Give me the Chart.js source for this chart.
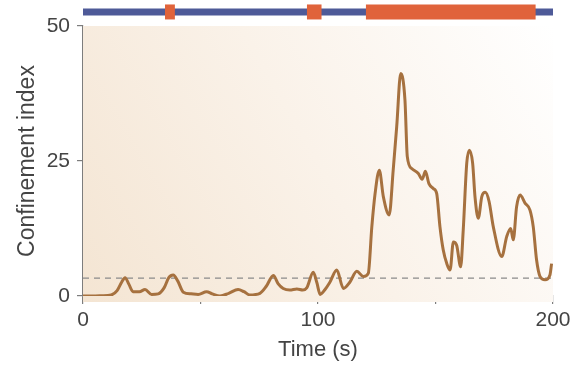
<!DOCTYPE html>
<html>
<head>
<meta charset="utf-8">
<script src="https://cdn.jsdelivr.net/npm/chart.js@4"></script>
<style>
  html, body { margin: 0; padding: 0; background: #ffffff; }
  #wrap { width: 575px; height: 368px; }
</style>
</head>
<body>
<div id="wrap"><canvas id="c" width="575" height="368"></canvas></div>
<script>
// Confinement index trace over time
const times = [0, 4, 8, 12, 14.5, 16.5, 17.9, 19.5, 21.3, 24, 26.4, 29.2, 32, 34.5, 36.5, 38.4, 40.3, 42.7,
  46, 49, 52.6, 55, 58.3, 62, 66, 68.5, 71, 75.3, 78, 81, 83, 85.2, 88, 91, 93.5, 95.2, 98, 99.5, 100.9,
  103, 105, 108, 110.8, 113.6, 116.5, 119.3, 121.4, 122.9, 124.3, 126.1, 127.8, 130.3, 132, 133.5, 135.2,
  137, 138, 139.9, 142.7, 144.3, 145.7, 147.2, 149.1, 150.5, 151.9, 153.3, 154.8, 156.2, 157.6, 159,
  160.7, 161.8, 163.3, 164.4, 165.8, 166.8, 168.2, 169.7, 171.2, 172.8, 174.6, 178.2, 180.3, 182, 183.1,
  184.5, 186, 188.1, 190.2, 191.6, 193, 194.5, 196.6, 198.7, 199.4];
const confinement = [0, 0, 0.05, 0.2, 1.0, 2.6, 3.4, 2.2, 0.8, 0.8, 1.2, 0.3, 0.4, 1.5, 3.4, 3.9, 2.8, 0.7,
  0.4, 0.3, 0.8, 0.4, 0.0, 0.5, 1.2, 0.8, 0.2, 0.5, 1.8, 3.8, 2.3, 1.4, 1.1, 1.3, 1.1, 1.5, 4.4, 2.5, 0.3,
  1.2, 2.5, 4.8, 1.4, 2.6, 4.6, 3.6, 4.2, 12.8, 19, 23.3, 18.4, 15, 23.3, 31.4, 41.2,
  36.3, 25.8, 23.6, 22.7, 21.6, 23.1, 20.8, 19.9, 19, 12.8, 8.5, 6.0, 4.8, 10, 9.4,
  5.4, 12.2, 24.6, 27, 24.6, 18.4, 14.4, 18.4, 19.2, 17.5, 12.8, 7.3, 11, 12.5, 10.4,
  16.5, 18.7, 17.2, 15.9, 12.8, 6.7, 3.6, 3.0, 3.9, 6.0];

// Threshold level (dashed line)
const threshold = 3.3;

// State bar above the plot: full span, plus confined intervals [start, end] in seconds
const barSpan = [0, 200];
const confinedIntervals = [[34.9, 39.1], [95.3, 101.5], [120.4, 192.6]];
const barLevel = 52.6;

// Axis ticks
const xTicksLabelled = [0, 100, 200];
const yTicks = [0, 25, 50];

const FONT = '"Liberation Sans", Arial, sans-serif';
const TEXT = '#444444';

const bgPlugin = {
  id: 'plotBackground',
  beforeDatasetsDraw(chart) {
    const { ctx, chartArea: a } = chart;
    const g = ctx.createLinearGradient(a.left, a.bottom, a.right, a.top);
    g.addColorStop(0, '#f4e5d3');
    g.addColorStop(0.5, '#faf2e9');
    g.addColorStop(1, '#ffffff');
    ctx.save();
    ctx.fillStyle = g;
    ctx.fillRect(a.left, a.top, a.right - a.left, a.bottom - a.top + 6);
    ctx.restore();
  }
};

const barDatasets = [{
  data: barSpan.map(x => ({ x, y: barLevel })),
  borderColor: '#4e5a98',
  borderWidth: 7,
  borderCapStyle: 'butt',
  pointRadius: 0,
  clip: false,
  order: 2
}].concat(confinedIntervals.map(([s, e]) => ({
  data: [{ x: s, y: barLevel }, { x: e, y: barLevel }],
  borderColor: '#e0633b',
  borderWidth: 15,
  borderCapStyle: 'butt',
  pointRadius: 0,
  clip: false,
  order: 1
})));

new Chart(document.getElementById('c'), {
  type: 'line',
  data: {
    datasets: [
      {
        data: times.map((t, i) => ({ x: t, y: confinement[i] })),
        borderColor: '#a6713f',
        borderWidth: 3,
        pointRadius: 0,
        cubicInterpolationMode: 'monotone',
        order: 3
      },
      {
        data: [{ x: 0, y: threshold }, { x: 200, y: threshold }],
        borderColor: '#8a8a8a',
        borderWidth: 1.2,
        borderDash: [6, 5],
        pointRadius: 0,
        order: 4
      },
      ...barDatasets
    ]
  },
  plugins: [bgPlugin],
  options: {
    responsive: false,
    animation: false,
    layout: { padding: { top: 26, right: 22, left: 0, bottom: 0 } },
    plugins: { legend: { display: false }, tooltip: { enabled: false } },
    scales: {
      x: {
        type: 'linear',
        min: 0, max: 200,
        afterFit(s) { s.height = 72; },
        border: { color: '#7d7d7d', width: 1.2 },
        grid: { drawOnChartArea: false, tickLength: 8, color: '#7d7d7d', lineWidth: 1.2 },
        ticks: {
          stepSize: 50,
          padding: 4,
          color: TEXT,
          font: { family: FONT, size: 21 },
          maxRotation: 0,
          callback: v => xTicksLabelled.includes(v) ? String(v) : ''
        },
        title: {
          display: true,
          text: 'Time (s)',
          color: TEXT,
          font: { family: FONT, size: 22 },
          padding: { top: 0, bottom: 5 }
        }
      },
      y: {
        min: 0, max: 50,
        afterFit(s) { s.width = 83; },
        border: { color: '#7d7d7d', width: 1.2 },
        grid: { drawOnChartArea: false, tickLength: 6, color: '#7d7d7d', lineWidth: 1.2 },
        afterBuildTicks(s) { s.ticks = yTicks.map(v => ({ value: v })); },
        ticks: {
          padding: 7,
          color: TEXT,
          font: { family: FONT, size: 21 }
        },
        title: {
          display: true,
          text: 'Confinement index',
          color: TEXT,
          font: { family: FONT, size: 23 },
          padding: { top: 14, bottom: 0 }
        }
      }
    }
  }
});
</script>
</body>
</html>
